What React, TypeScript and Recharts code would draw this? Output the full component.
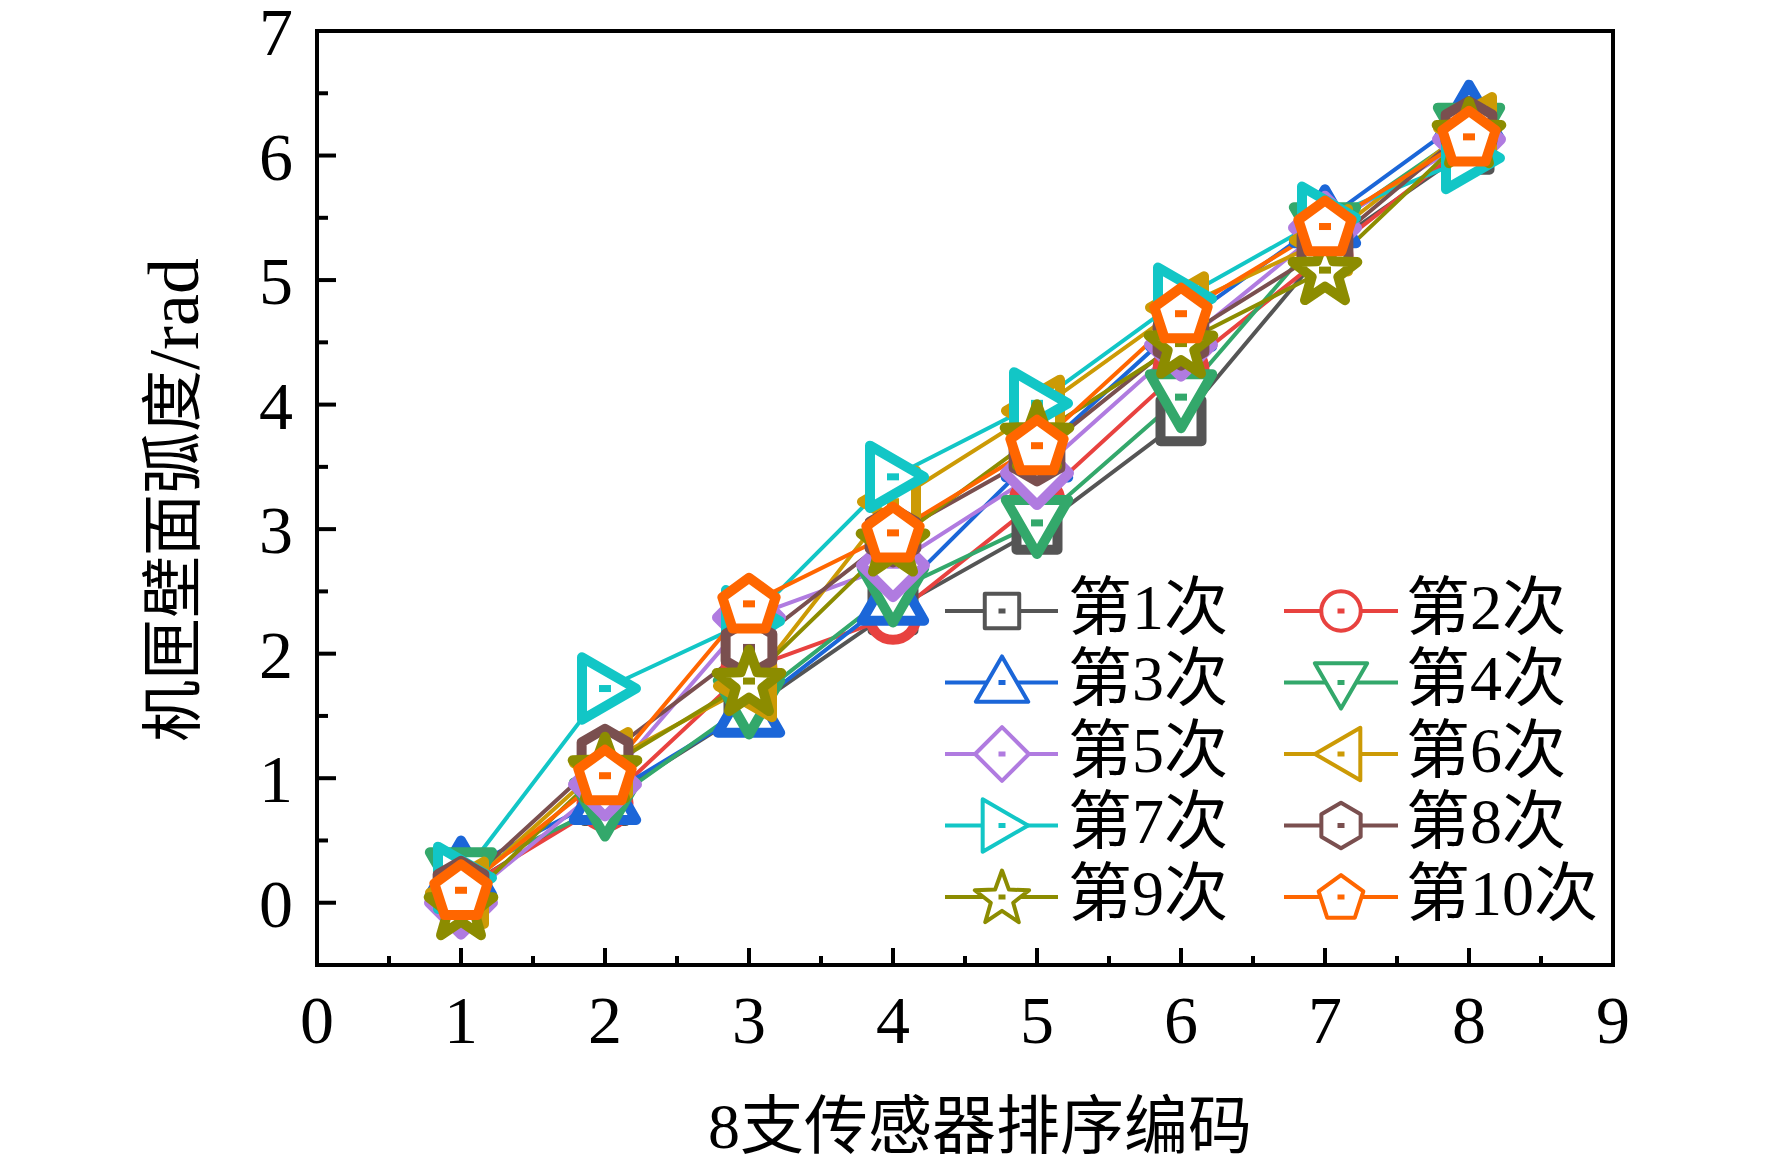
import React from "react";
import { LineChart, Line, XAxis, YAxis, Legend, ReferenceArea } from "recharts";

// sensor index on the x axis
const sensors = [1, 2, 3, 4, 5, 6, 7, 8];

// measured wall arc (rad) for each of the 10 runs
const run1 = [0.1, 0.82, 1.55, 2.35, 3.0, 3.87, 5.25, 6.05];
const run2 = [0.1, 0.8, 1.88, 2.3, 3.22, 4.28, 5.2, 6.1];
const run3 = [0.25, 0.85, 1.55, 2.45, 3.6, 4.65, 5.48, 6.32];
const run4 = [0.22, 0.78, 1.6, 2.5, 3.05, 4.06, 5.4, 6.2];
const run5 = [0.0, 0.95, 2.29, 2.71, 3.45, 4.48, 5.42, 6.13];
const run6 = [0.08, 1.12, 1.74, 3.22, 3.95, 4.78, 5.32, 6.22];
const run7 = [0.2, 1.72, 2.26, 3.42, 4.01, 4.85, 5.5, 5.98];
const run8 = [0.12, 1.18, 2.05, 2.95, 3.6, 4.53, 5.25, 6.22];
const run9 = [-0.02, 1.08, 1.78, 2.9, 3.75, 4.49, 5.08, 6.18];
const run10 = [0.1, 1.02, 2.4, 2.97, 3.67, 4.73, 5.43, 6.15];

const runs = [run1, run2, run3, run4, run5, run6, run7, run8, run9, run10];
const runNames = ["第1次", "第2次", "第3次", "第4次", "第5次", "第6次", "第7次", "第8次", "第9次", "第10次"];
const runColors = ["#555555", "#E8423F", "#1B66D8", "#33A86B", "#B07BE0", "#CC9A05", "#12C6C6", "#7A4F4F", "#8C8C00", "#FF6600"];
const runShapes = ["square", "circle", "up", "down", "diamond", "left", "right", "hexagon", "star", "pentagon"];

const xTicks = [0, 0.5, 1, 1.5, 2, 2.5, 3, 3.5, 4, 4.5, 5, 5.5, 6, 6.5, 7, 7.5, 8, 8.5, 9];
const yTicks = [-0.5, 0, 0.5, 1, 1.5, 2, 2.5, 3, 3.5, 4, 4.5, 5, 5.5, 6, 6.5, 7];

const data = sensors.map((x, i) => {
  const row: Record<string, number> = { x };
  runs.forEach((r, k) => {
    row["r" + (k + 1)] = r[i];
  });
  return row;
});

const serif = "'Liberation Serif', 'Noto Sans CJK SC', serif";

function polyPoints(cx: number, cy: number, n: number, R: number, startDeg: number) {
  const pts: string[] = [];
  for (let i = 0; i < n; i++) {
    const a = ((startDeg + (360 / n) * i) * Math.PI) / 180;
    pts.push(`${cx + R * Math.cos(a)},${cy + R * Math.sin(a)}`);
  }
  return pts.join(" ");
}

function starPoints(cx: number, cy: number, Ro: number, Ri: number) {
  const pts: string[] = [];
  for (let i = 0; i < 10; i++) {
    const r = i % 2 === 0 ? Ro : Ri;
    const a = ((-90 + 36 * i) * Math.PI) / 180;
    pts.push(`${cx + r * Math.cos(a)},${cy + r * Math.sin(a)}`);
  }
  return pts.join(" ");
}

function Marker({ cx, cy, shape, color, s, sw, dw, dh }: any) {
  const common = { fill: "#fff", stroke: color, strokeWidth: sw, strokeLinejoin: "round" as const };
  let el;
  switch (shape) {
    case "square":
      el = <rect x={cx - 0.41 * s} y={cy - 0.41 * s} width={0.82 * s} height={0.82 * s} {...common} />;
      break;
    case "circle":
      el = <circle cx={cx} cy={cy} r={0.47 * s} {...common} />;
      break;
    case "up":
      el = <polygon points={polyPoints(cx, cy + 0.1 * s, 3, 0.72 * s, -90)} {...common} />;
      break;
    case "down":
      el = <polygon points={polyPoints(cx, cy - 0.1 * s, 3, 0.72 * s, 90)} {...common} />;
      break;
    case "left":
      el = <polygon points={polyPoints(cx + 0.1 * s, cy, 3, 0.72 * s, 180)} {...common} />;
      break;
    case "right":
      el = <polygon points={polyPoints(cx - 0.1 * s, cy, 3, 0.72 * s, 0)} {...common} />;
      break;
    case "diamond":
      el = <polygon points={polyPoints(cx, cy, 4, 0.64 * s, -90)} {...common} />;
      break;
    case "hexagon":
      el = <polygon points={polyPoints(cx, cy, 6, 0.54 * s, -90)} {...common} />;
      break;
    case "pentagon":
      el = <polygon points={polyPoints(cx, cy + 0.04 * s, 5, 0.56 * s, -90)} {...common} />;
      break;
    default:
      el = <polygon points={starPoints(cx, cy + 0.05 * s, 0.68 * s, 0.28 * s)} {...common} />;
  }
  return (
    <g>
      {el}
      <rect x={cx - dw / 2} y={cy - dh / 2} width={dw} height={dh} fill={color} />
    </g>
  );
}

function XTick({ x, y, payload }: any) {
  const v = payload.value;
  const major = Number.isInteger(v);
  return (
    <g>
      <line x1={x} x2={x} y1={y} y2={y - (major ? 17 : 9)} stroke="#000" strokeWidth={4} />
      {major && (
        <text x={x} y={y + 78} textAnchor="middle" fontFamily={serif} fontSize={68} fill="#000">
          {v}
        </text>
      )}
    </g>
  );
}

function YTick({ x, y, payload }: any) {
  const v = payload.value;
  const major = Number.isInteger(v);
  return (
    <g>
      <line x1={x} x2={x + (major ? 19 : 11)} y1={y} y2={y} stroke="#000" strokeWidth={4} />
      {major && (
        <text x={x - 24} y={y + 24} textAnchor="end" fontFamily={serif} fontSize={68} fill="#000">
          {v}
        </text>
      )}
    </g>
  );
}

function LegendBox() {
  const cols = [
    { lx1: 5, lx2: 118, mx: 62, tx: 128 },
    { lx1: 344, lx2: 458, mx: 401, tx: 466 },
  ];
  const rowsY = [41, 112.5, 184, 255.5, 327];
  return (
    <svg width={680} height={370}>
      {runNames.map((name, i) => {
        const c = cols[i % 2];
        const y = rowsY[Math.floor(i / 2)];
        return (
          <g key={name}>
            <line x1={c.lx1} x2={c.lx2} y1={y} y2={y} stroke={runColors[i]} strokeWidth={4} />
            <Marker cx={c.mx} cy={y} shape={runShapes[i]} color={runColors[i]} s={42} sw={4} dw={7} dh={5} />
            <text x={c.tx} y={y - 4} dominantBaseline="central" fontFamily={serif} fontSize={64} fill="#000">
              {name}
            </text>
          </g>
        );
      })}
    </svg>
  );
}

export default function App() {
  return (
    <div style={{ position: "absolute", left: 0, top: 0, width: 1772, height: 1165, background: "#fff" }}>
      <LineChart
        width={1772}
        height={1165}
        data={data}
        margin={{ top: 31, right: 159, left: 217, bottom: 100 }}
      >
        <ReferenceArea x1={0} x2={9} y1={-0.5} y2={7} fill="none" stroke="#000" strokeWidth={4} />
        <XAxis
          type="number"
          dataKey="x"
          domain={[0, 9]}
          ticks={xTicks}
          interval={0}
          height={100}
          tickSize={0}
          tickMargin={0}
          tickLine={false}
          axisLine={false}
          tick={XTick}
        />
        <YAxis
          type="number"
          domain={[-0.5, 7]}
          ticks={yTicks}
          interval={0}
          width={100}
          tickSize={0}
          tickMargin={0}
          tickLine={false}
          axisLine={false}
          tick={YTick}
        />
        {runNames.map((name, k) => (
          <Line
            key={name}
            type="linear"
            dataKey={"r" + (k + 1)}
            name={name}
            stroke={runColors[k]}
            strokeWidth={4}
            isAnimationActive={false}
            activeDot={false}
            dot={(p: any) => (
              <Marker
                key={name + p.index}
                cx={p.cx}
                cy={p.cy}
                shape={runShapes[k]}
                color={runColors[k]}
                s={50}
                sw={10}
                dw={12}
                dh={7}
              />
            )}
          />
        ))}
        <Legend
          layout="horizontal"
          verticalAlign="middle"
          wrapperStyle={{ left: 940, top: 570, width: 680, height: 370 }}
          content={() => <LegendBox />}
        />
      </LineChart>
      <svg
        width={1772}
        height={1165}
        style={{ position: "absolute", left: 0, top: 0, pointerEvents: "none" }}
      >
        <text
          x={174}
          y={500}
          transform="rotate(-90 174 500)"
          textAnchor="middle"
          dominantBaseline="central"
          fontFamily={serif}
          fontSize={62}
          fill="#000"
        >
          机匣壁面弧度<tspan fontSize={72}>/rad</tspan>
        </text>
        <text x={980} y={1126} textAnchor="middle" dominantBaseline="central" fontFamily={serif} fontSize={64} fill="#000">
          8支传感器排序编码
        </text>
      </svg>
    </div>
  );
}
